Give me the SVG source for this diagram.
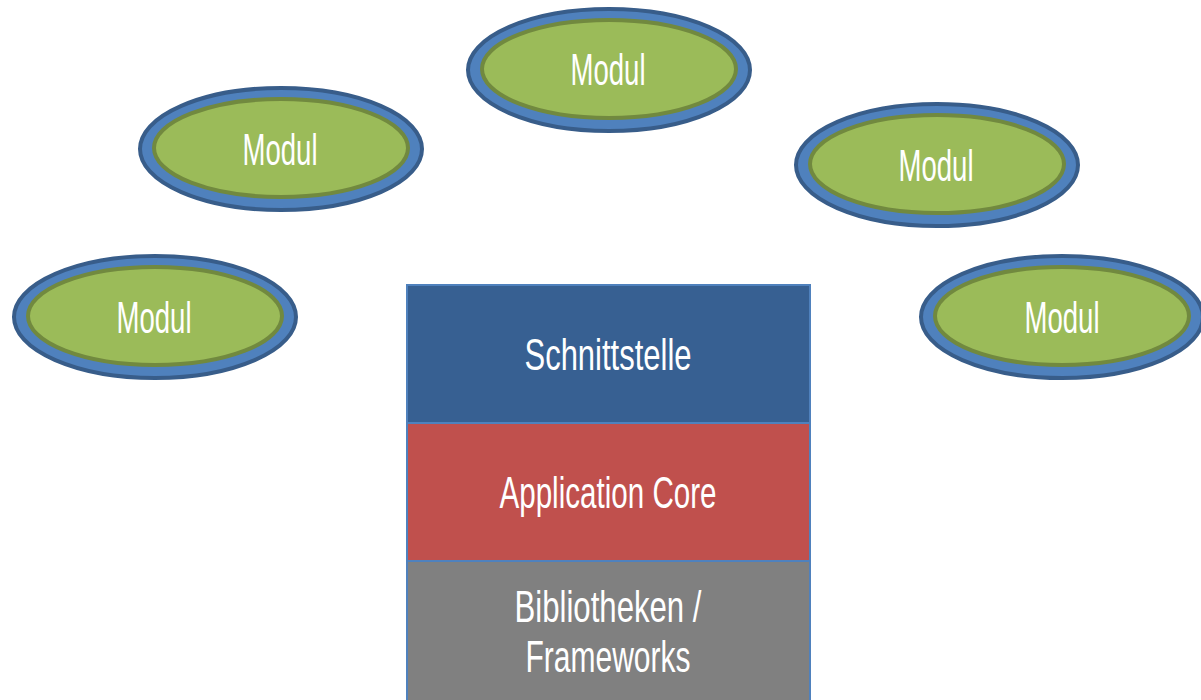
<svg xmlns="http://www.w3.org/2000/svg" width="1201" height="700" viewBox="0 0 1201 700">
<defs>
<style>
.outer{fill:#4F81BD;stroke:#385D8A;stroke-width:4}
.inner{fill:#9BBB59;stroke:#71893F;stroke-width:4}
.lbl{font-family:"Liberation Sans","DejaVu Sans",sans-serif;font-size:44px;fill:#FFFFFF;text-anchor:middle}
.box{stroke:#4F81BD;stroke-width:2}
</style>
</defs>
<rect width="1201" height="700" fill="#FFFFFF"/>
<g id="modul-top">
<ellipse class="outer" cx="609" cy="70" rx="141" ry="61"/>
<ellipse class="inner" cx="609" cy="69" rx="127" ry="49"/>
<text class="lbl" x="608" y="85" textLength="75" lengthAdjust="spacingAndGlyphs">Modul</text>
</g>
<g id="modul-midleft">
<ellipse class="outer" cx="281" cy="149" rx="141" ry="61"/>
<ellipse class="inner" cx="281" cy="148" rx="127" ry="49"/>
<text class="lbl" x="280" y="165" textLength="75" lengthAdjust="spacingAndGlyphs">Modul</text>
</g>
<g id="modul-midright">
<ellipse class="outer" cx="937" cy="165" rx="141" ry="61"/>
<ellipse class="inner" cx="937" cy="164" rx="127" ry="49"/>
<text class="lbl" x="936" y="181" textLength="75" lengthAdjust="spacingAndGlyphs">Modul</text>
</g>
<g id="modul-left">
<ellipse class="outer" cx="155" cy="317" rx="141" ry="61"/>
<ellipse class="inner" cx="155" cy="316" rx="127" ry="49"/>
<text class="lbl" x="154" y="333" textLength="75" lengthAdjust="spacingAndGlyphs">Modul</text>
</g>
<g id="modul-right">
<ellipse class="outer" cx="1062" cy="317" rx="141" ry="61"/>
<ellipse class="inner" cx="1062" cy="316" rx="127" ry="49"/>
<text class="lbl" x="1062" y="333" textLength="75" lengthAdjust="spacingAndGlyphs">Modul</text>
</g>
<g id="schnittstelle">
<rect class="box" x="407" y="285" width="403" height="138" fill="#376092"/>
<text class="lbl" x="608" y="370" textLength="167" lengthAdjust="spacingAndGlyphs">Schnittstelle</text>
</g>
<g id="application-core">
<rect class="box" x="407" y="423" width="403" height="138" fill="#C0504D"/>
<text class="lbl" x="608" y="508" textLength="217" lengthAdjust="spacingAndGlyphs">Application Core</text>
</g>
<g id="bibliotheken">
<rect class="box" x="407" y="561" width="403" height="140" fill="#808080"/>
<text class="lbl" x="608" y="622" textLength="187" lengthAdjust="spacingAndGlyphs">Bibliotheken /</text>
<text class="lbl" x="608" y="672" textLength="165" lengthAdjust="spacingAndGlyphs">Frameworks</text>
</g>
<g id="connectors"/>
</svg>
